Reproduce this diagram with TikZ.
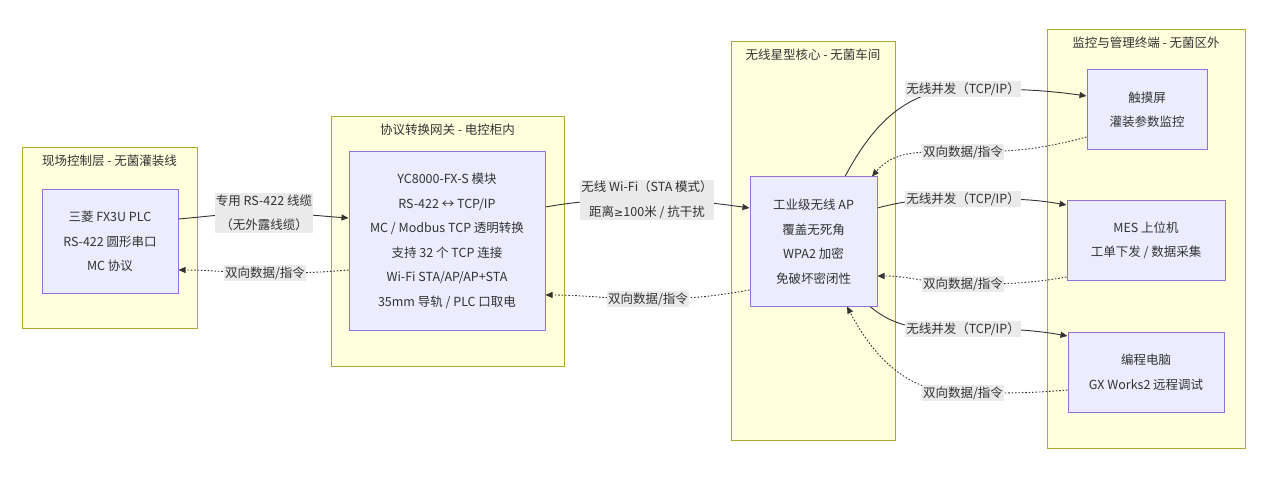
\documentclass[tikz,border=0pt]{standalone}
\usepackage{fontspec}
\setmainfont{Noto Sans CJK SC}
\newfontfamily\symfont{DejaVu Sans}
\usetikzlibrary{arrows.meta}
\definecolor{clfill}{HTML}{FFFFDE}
\definecolor{clline}{HTML}{AAAA33}
\definecolor{ndfill}{HTML}{ECECFF}
\definecolor{ndline}{HTML}{9370DB}
\definecolor{ink}{HTML}{333333}
\definecolor{lblbg}{HTML}{EAEAEA}
\pgfdeclarelayer{back}
\pgfdeclarelayer{edges}
\pgfsetlayers{back,edges,main}
\begin{document}
\begin{tikzpicture}[x=1pt,y=-1pt,
 every node/.style={font=\fontsize{12.5}{24.5}\selectfont, text=ink},
 cluster/.style={draw=clline, fill=clfill, line width=1pt, inner sep=0pt},
 box/.style={draw=ndline, fill=ndfill, line width=1pt, align=center, inner sep=0pt},
 lbl/.style={fill=lblbg, align=center, inner xsep=1pt, inner ysep=1.5pt},
 flow/.style={draw=ink, line width=0.9pt, -{Triangle[length=7pt,width=6pt]}},
 ret/.style={flow, dash pattern=on 1.6pt off 1.8pt}]
\useasboundingbox (0,0) rectangle (1268,478);

\begin{pgfonlayer}{back}
\node[cluster, minimum width=175pt, minimum height=180pt] (c1) at (109.5,238) {};
\node[cluster, minimum width=233pt, minimum height=249pt] (c2) at (447.5,241.5) {};
\node[cluster, minimum width=164pt, minimum height=398pt] (c3) at (813,241) {};
\node[cluster, minimum width=198pt, minimum height=418pt] (c4) at (1146,239) {};
\end{pgfonlayer}
\node (t1) at ([yshift=-13pt]c1.north) {现场控制层 - 无菌灌装线};
\node (t2) at ([yshift=-13pt]c2.north) {协议转换网关 - 电控柜内};
\node (t3) at ([yshift=-13pt]c3.north) {无线星型核心 - 无菌车间};
\node (t4) at ([yshift=-13pt]c4.north) {监控与管理终端 - 无菌区外};

\node[box, minimum width=136pt, minimum height=103pt] (plc) at (110,241.5) {三菱 FX3U PLC\\RS-422 圆形串口\\MC 协议};
\node[box, minimum width=196pt, minimum height=178pt] (yc) at (447,241) {YC8000-FX-S 模块\\RS-422 ↔ TCP/IP\\MC / Modbus TCP 透明转换\\支持 32 个 TCP 连接\\Wi-Fi STA/AP/AP+STA\\35mm 导轨 / PLC 口取电};
\node[box, minimum width=127pt, minimum height=129pt] (ap) at (813.5,241.5) {工业级无线 AP\\覆盖无死角\\WPA2 加密\\免破坏密闭性};
\node[box, minimum width=120pt, minimum height=80pt] (touch) at (1147,110) {触摸屏\\灌装参数监控};
\node[box, minimum width=158pt, minimum height=79pt] (mes) at (1146,240.5) {MES 上位机\\工单下发 / 数据采集};
\node[box, minimum width=156pt, minimum height=80pt] (pc) at (1146,372) {编程电脑\\GX Works2 远程调试};

\node[lbl] (l1) at (264,213) {专用 RS-422 线缆\\（无外露线缆）};
\node[lbl] (l2) at (265,273) {双向数据/指令};
\node[lbl] (l3) at (647,200) {无线 Wi-Fi（STA 模式）\\距离{\symfont\fontsize{11}{24.5}\selectfont ≥}100米 / 抗干扰};
\node[lbl] (l4) at (648,299) {双向数据/指令};
\node[lbl] (l5) at (963,89) {无线并发（TCP/IP）};
\node[lbl] (l6) at (963,152) {双向数据/指令};
\node[lbl] (l7) at (963,199) {无线并发（TCP/IP）};
\node[lbl] (l8) at (963,284) {双向数据/指令};
\node[lbl] (l9) at (963,329) {无线并发（TCP/IP）};
\node[lbl] (l10) at (963,393) {双向数据/指令};

\begin{pgfonlayer}{edges}
\draw[flow] (plc.east |- 0,219) to[out=5,in=180] (l1.center) to[out=0,in=176] (yc.west |- 0,218);
\draw[ret] (yc.west |- 0,270) to[out=185,in=0] (l2.center) to[out=180,in=0] (plc.east |- 0,270);
\draw[flow] (yc.east |- 0,207) to[out=10,in=180] (l3.center) to[out=0,in=172] (ap.west |- 0,208);
\draw[ret] (ap.west |- 0,290) to[out=190,in=0] (l4.center) to[out=180,in=0] (yc.east |- 0,295);
\draw[flow] (ap.north -| 845,0) to[out=62,in=180] (l5.center) to[out=0,in=172] (touch.west |- 0,96);
\draw[ret] (touch.west |- 0,137) to[out=195,in=0] (l6.center) to[out=180,in=50] (ap.north -| 872,0);
\draw[flow] (ap.east |- 0,208) to[out=15,in=180] (l7.center) to[out=0,in=170] (mes.west |- 0,205);
\draw[ret] (mes.west |- 0,277) to[out=190,in=0] (l8.center) to[out=180,in=0] (ap.east |- 0,276);
\draw[flow] (ap.south -| 870,0) to[out=-40,in=180] (l9.center) to[out=0,in=170] (pc.west |- 0,336);
\draw[ret] (pc.west |- 0,390) to[out=185,in=0] (l10.center) to[out=180,in=-62] (ap.south -| 847,0);
\end{pgfonlayer}
\end{tikzpicture}
\end{document}
